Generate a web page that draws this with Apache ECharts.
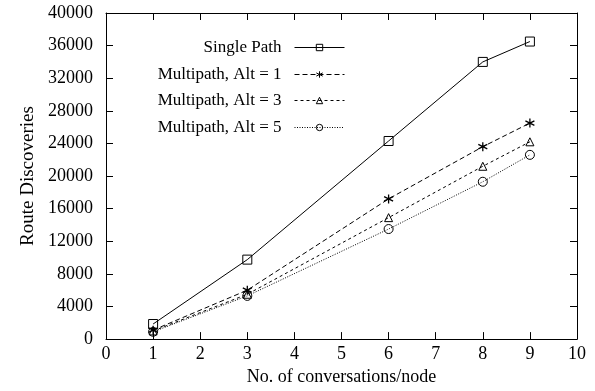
<!DOCTYPE html>
<html>
<head>
<meta charset="utf-8">
<script src="https://cdn.jsdelivr.net/npm/echarts@6/dist/echarts.min.js"></script>
<style>
  html, body { margin: 0; padding: 0; background: #fff; }
  #chart { width: 595px; height: 391px; }
</style>
</head>
<body>
<div id="chart"></div>
<script>
// Conversations per node
const conversations = [1, 3, 6, 8, 9];
// Route discoveries per routing scheme
const singlePath = [1850, 9750, 24300, 34000, 36500];
const multiAlt1 = [1100, 6000, 17200, 23600, 26500];
const multiAlt3 = [1000, 5500, 14900, 21200, 24200];
const multiAlt5 = [900, 5300, 13500, 19300, 22600];
const seriesNames = ['Single Path', 'Multipath, Alt = 1', 'Multipath, Alt = 3', 'Multipath, Alt = 5'];
const xTicks = [0, 1, 2, 3, 4, 5, 6, 7, 8, 9, 10];
const yTicks = [0, 4000, 8000, 12000, 16000, 20000, 24000, 28000, 32000, 36000, 40000];

const FONT = '"Liberation Serif", "Times New Roman", serif';
const asterisk = 'path://M0,-5L0,5M-4.33,-2.5L4.33,2.5M-4.33,2.5L4.33,-2.5';

function pairs(ys) { return conversations.map((x, i) => [x, ys[i]]); }

function mkSeries(name, ys, symbol, size, dash, filled) {
  return {
    name: name,
    type: 'line',
    data: pairs(ys),
    symbol: symbol,
    symbolSize: size,
    showAllSymbol: true,
    lineStyle: { color: '#000', width: 1, type: dash },
    itemStyle: { color: filled ? '#000' : 'rgba(0,0,0,0)', borderColor: '#000', borderWidth: filled ? 1.3 : 1 },
    emphasis: { disabled: true },
    animation: false
  };
}

const axisCommon = {
  type: 'value',
  axisLine: { show: true, onZero: false, lineStyle: { color: '#000', width: 1 } },
  axisTick: { show: true, inside: true, length: 7, lineStyle: { color: '#000', width: 1 } },
  splitLine: { show: false }
};

function legendAt(name, top) {
  return {
    data: [name],
    right: 245,
    top: top,
    align: 'right',
    orient: 'vertical',
    itemWidth: 50,
    itemHeight: 8,
    lineStyle: { width: 1 },
    itemStyle: { borderWidth: 1 },
    textStyle: { fontFamily: FONT, fontSize: 17, color: '#000', padding: [0, 8, 0, 0] },
    selectedMode: false
  };
}

const chart = echarts.init(document.getElementById('chart'));
chart.setOption({
  backgroundColor: '#fff',
  animation: false,
  grid: { left: 106, right: 18, top: 13, bottom: 49 },
  legend: [
    legendAt(seriesNames[0], 34),
    legendAt(seriesNames[1], 61),
    legendAt(seriesNames[2], 87),
    legendAt(seriesNames[3], 114)
  ],
  xAxis: [
    Object.assign({}, axisCommon, {
      min: xTicks[0], max: xTicks[xTicks.length - 1], interval: 1,
      position: 'bottom',
      axisLabel: { fontFamily: FONT, fontSize: 18, color: '#000', margin: 6 },
      name: 'No. of conversations/node',
      nameLocation: 'middle',
      nameGap: 27,
      nameTextStyle: { fontFamily: FONT, fontSize: 18, color: '#000' }
    }),
    Object.assign({}, axisCommon, {
      min: xTicks[0], max: xTicks[xTicks.length - 1], interval: 1,
      position: 'top',
      axisLabel: { show: false }
    })
  ],
  yAxis: [
    Object.assign({}, axisCommon, {
      min: yTicks[0], max: yTicks[yTicks.length - 1], interval: 4000,
      position: 'left',
      axisLabel: { fontFamily: FONT, fontSize: 18, color: '#000', margin: 13, formatter: v => String(v) },
      name: 'Route Discoveries',
      nameLocation: 'middle',
      nameGap: 68,
      nameTextStyle: { fontFamily: FONT, fontSize: 19, color: '#000' }
    }),
    Object.assign({}, axisCommon, {
      min: yTicks[0], max: yTicks[yTicks.length - 1], interval: 4000,
      position: 'right',
      axisLabel: { show: false }
    })
  ],
  series: [
    mkSeries(seriesNames[0], singlePath, 'rect', 9, 'solid', false),
    mkSeries(seriesNames[1], multiAlt1, asterisk, 9, [5, 3], true),
    mkSeries(seriesNames[2], multiAlt3, 'triangle', 8, [3, 3], false),
    mkSeries(seriesNames[3], multiAlt5, 'circle', 9, [1, 1.5], false)
  ]
});
</script>
</body>
</html>
